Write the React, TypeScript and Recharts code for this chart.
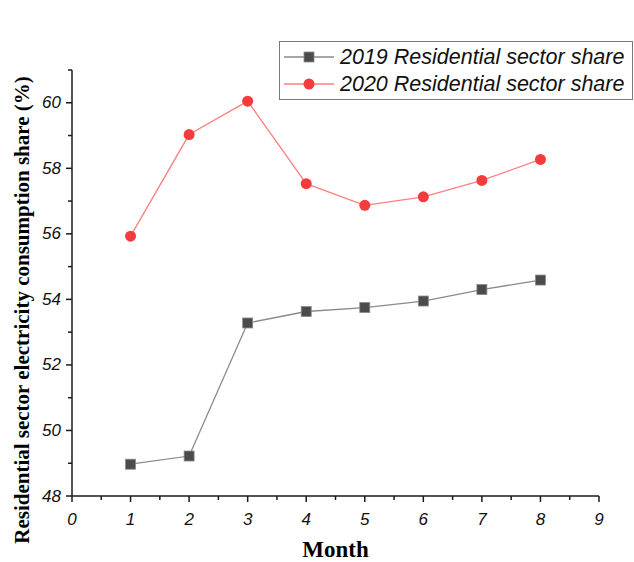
import React from 'react';
import { LineChart, Line, XAxis, YAxis, Label } from 'recharts';

const months = [1, 2, 3, 4, 5, 6, 7, 8];
const share2019 = [48.97, 49.22, 53.28, 53.63, 53.75, 53.95, 54.3, 54.59];
const share2020 = [55.93, 59.03, 60.05, 57.53, 56.87, 57.13, 57.63, 58.27];
const xTicks = [0, 0.5, 1, 1.5, 2, 2.5, 3, 3.5, 4, 4.5, 5, 5.5, 6, 6.5, 7, 7.5, 8, 8.5, 9];
const yTicks = [48, 49, 50, 51, 52, 53, 54, 55, 56, 57, 58, 59, 60, 61];
const seriesNames = ['2019 Residential sector share', '2020 Residential sector share'];

const data = months.map((m, i) => ({ month: m, s2019: share2019[i], s2020: share2020[i] }));

const AXIS = '#1a1a1a';
const SANS = '"Liberation Sans", Arial, sans-serif';
const SERIF = '"Liberation Serif", "Times New Roman", serif';

const XTick = (props: any) => {
  const { x, y, payload } = props;
  const v = payload.value;
  const major = Number.isInteger(v);
  return (
    <g>
      <line x1={x} x2={x} y1={y} y2={y + (major ? 6 : 4)} stroke={AXIS} strokeWidth={1.5} />
      {major && (
        <text x={x} y={y + 23} textAnchor="middle" dominantBaseline="central" fontStyle="italic" fontSize={17} fontFamily={SANS} fill="#111">
          {v}
        </text>
      )}
    </g>
  );
};

const YTick = (props: any) => {
  const { x, y, payload } = props;
  const v = payload.value;
  const major = v % 2 === 0;
  return (
    <g>
      <line x1={x} x2={x - (major ? 6 : 4)} y1={y} y2={y} stroke={AXIS} strokeWidth={1.5} />
      {major && v <= 60 && (
        <text x={x - 11} y={y} textAnchor="end" dominantBaseline="central" fontStyle="italic" fontSize={17} fontFamily={SANS} fill="#111">
          {v}
        </text>
      )}
    </g>
  );
};

const SquareDot = (p: any) => (
  <rect key={`sq-${p.index}`} x={p.cx - 5} y={p.cy - 5} width={10} height={10} fill="#4b4b4b" stroke="#8a8a8a" strokeWidth={0.8} />
);
const CircleDot = (p: any) => (
  <circle key={`ci-${p.index}`} cx={p.cx} cy={p.cy} r={5.5} fill="#f43c3c" />
);

const LegendBox = () => (
  <div
    style={{
      position: 'absolute',
      left: 279,
      top: 41,
      width: 354,
      height: 59,
      boxSizing: 'border-box',
      border: '1.5px solid #7a7a7a',
      background: '#fff',
      paddingTop: 1,
    }}
  >
    {seriesNames.map((name, i) => (
      <div key={name} style={{ display: 'flex', alignItems: 'center', height: 26.5, marginTop: i === 0 ? 1 : 0 }}>
        <svg width={58} height={20} style={{ flex: 'none', marginLeft: 2 }}>
          <line x1={2} x2={52} y1={10} y2={10} stroke={i === 0 ? '#8a8a8a' : '#ff7f7f'} strokeWidth={1.3} />
          {i === 0 ? (
            <rect x={22} y={5} width={10} height={10} fill="#4b4b4b" stroke="#8a8a8a" strokeWidth={0.8} />
          ) : (
            <circle cx={27} cy={10} r={5.5} fill="#f43c3c" />
          )}
        </svg>
        <span style={{ fontFamily: SANS, fontStyle: 'italic', fontSize: 21.5, color: '#111', whiteSpace: 'nowrap', lineHeight: '26px' }}>
          {name}
        </span>
      </div>
    ))}
  </div>
);

export default function App() {
  return (
    <div style={{ position: 'absolute', left: 0, top: 0, width: 634, height: 562, background: '#fff', overflow: 'hidden' }}>
      <LineChart width={634} height={562} data={data} margin={{ top: 70, right: 35, bottom: 0, left: 0 }}>
        <XAxis
          dataKey="month"
          type="number"
          domain={[0, 9]}
          ticks={xTicks}
          interval={0}
          height={66}
          tickSize={0}
          tickMargin={0}
          tickLine={false}
          tick={<XTick />}
          axisLine={{ stroke: AXIS, strokeWidth: 1.5 }}
        >
          <Label value="Month" position="insideBottom" offset={5} style={{ fontFamily: SERIF, fontWeight: 'bold', fontSize: 23, fill: '#000' }} />
        </XAxis>
        <YAxis
          type="number"
          domain={[48, 61]}
          ticks={yTicks}
          interval={0}
          width={72}
          tickSize={0}
          tickMargin={0}
          tickLine={false}
          tick={<YTick />}
          axisLine={{ stroke: AXIS, strokeWidth: 1.5 }}
        >
          <Label
            value="Residential sector electricity consumption share (%)"
            angle={-90}
            position="center"
            dx={-14}
            dy={27}
            style={{ fontFamily: SERIF, fontWeight: 'bold', fontSize: 21, fill: '#000', textAnchor: 'middle' }}
          />
        </YAxis>
        <Line dataKey="s2019" name={seriesNames[0]} stroke="#8a8a8a" strokeWidth={1.3} dot={SquareDot} activeDot={false} isAnimationActive={false} />
        <Line dataKey="s2020" name={seriesNames[1]} stroke="#ff7f7f" strokeWidth={1.3} dot={CircleDot} activeDot={false} isAnimationActive={false} />
      </LineChart>
      <LegendBox />
    </div>
  );
}
